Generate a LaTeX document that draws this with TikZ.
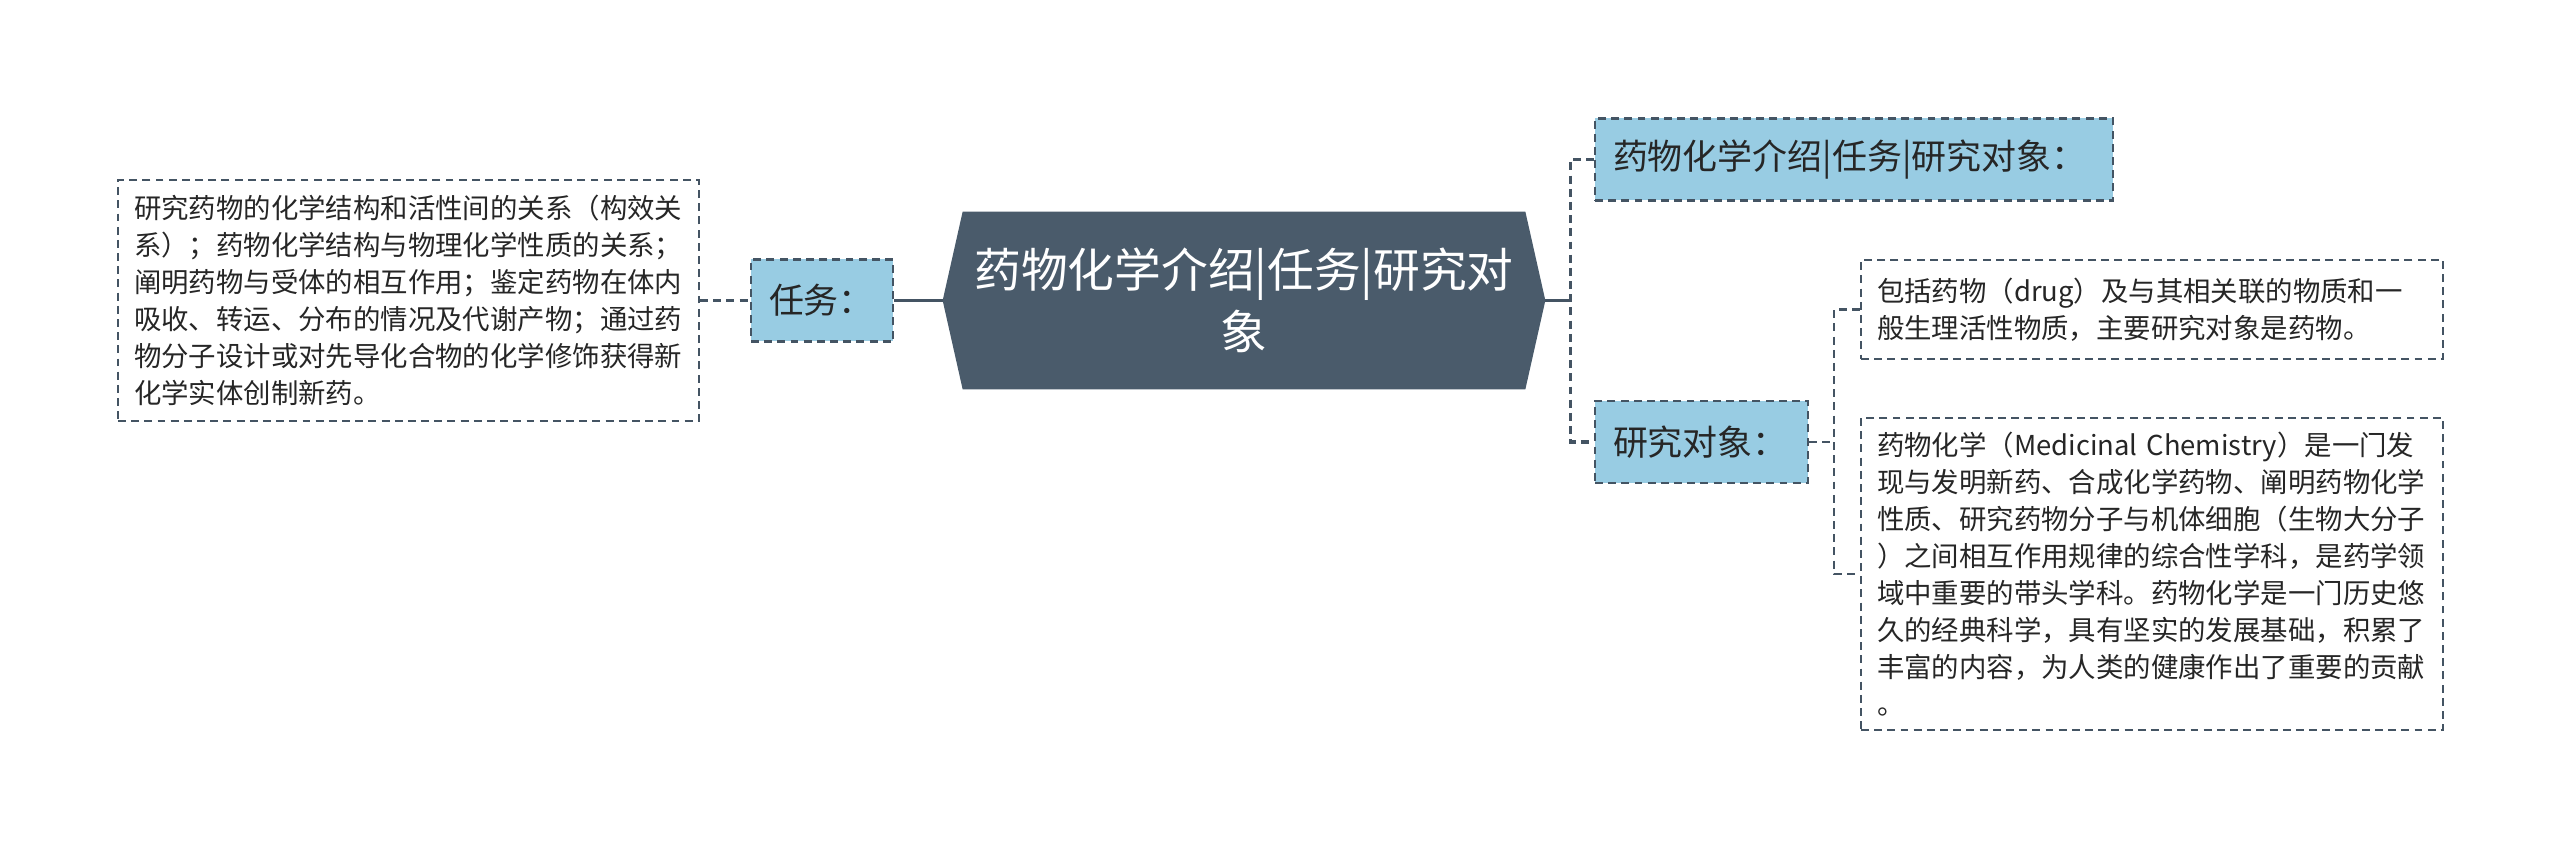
\documentclass[tikz,border=0pt]{standalone}
\usepackage{fontspec}
\newfontfamily\cjk{Noto Sans CJK SC}
\usepackage{tikz}
\usetikzlibrary{calc,backgrounds}

\definecolor{hubfill}{RGB}{74,91,107}
\definecolor{topicfill}{RGB}{152,204,227}
\definecolor{edge}{RGB}{68,84,99}
\definecolor{ink}{RGB}{38,38,38}

\begin{document}
\begin{tikzpicture}[
    hub/.style={minimum width=12.04cm, minimum height=3.54cm, inner sep=0pt, align=center, text=white, font=\cjk\fontsize{26.6}{35}\selectfont},
    topic/.style={draw=edge, line width=0.05cm, dash pattern=on 4.5pt off 3pt, fill=topicfill, text=ink, minimum height=1.64cm, inner xsep=0.36cm, text width=#1, align=left, font=\cjk\fontsize{19.9}{24}\selectfont},
    note/.style={draw=edge, line width=0.045cm, dash pattern=on 4.5pt off 3pt, fill=white, text=ink, inner xsep=0.32cm, inner ysep=0pt, text width=#1, align=left, font=\cjk\fontsize{15.6}{21}\selectfont},
    link/.style={draw=edge, line width=0.065cm},
    dlink/.style={link, dash pattern=on 4.5pt off 3pt},
    slink/.style={draw=edge, line width=0.045cm, dash pattern=on 4.5pt off 3pt}
]
\useasboundingbox (0,0) rectangle (51.2,-16.98);

% centre and left branch
\node[hub] (hub) at (24.88,-6.01) {药物化学介绍|任务|研究对\\象};
\node[topic=2.12cm] (task) at (16.44,-6.01) {任务：};
\node[note=10.98cm, minimum height=4.82cm] (duty) at (8.17,-6.01) {研究药物的化学结构和活性间的关系（构效关\\系）；药物化学结构与物理化学性质的关系；\\阐明药物与受体的相互作用；鉴定药物在体内\\吸收、转运、分布的情况及代谢产物；通过药\\物分子设计或对先导化合物的化学修饰获得新\\化学实体创制新药。};

% right branch
\node[topic=9.64cm] (intro) at (37.08,-3.19) {药物化学介绍|任务|研究对象：};
\node[topic=3.54cm] (obj) at (34.03,-8.84) {研究对象：};
\node[note=11.0cm, minimum height=1.98cm] (drug) at (43.04,-6.19) {包括药物（drug）及与其相关联的物质和一\\般生理活性物质，主要研究对象是药物。};
\node[note=11.0cm, minimum height=6.24cm] (med) at (43.04,-11.48) {药物化学（Medicinal Chemistry）是一门发\\现与发明新药、合成化学药物、阐明药物化学\\性质、研究药物分子与机体细胞（生物大分子\\）之间相互作用规律的综合性学科，是药学领\\域中重要的带头学科。药物化学是一门历史悠\\久的经典科学，具有坚实的发展基础，积累了\\丰富的内容，为人类的健康作出了重要的贡献\\。};

\begin{scope}[on background layer]
\fill[hubfill] (hub.west) -- ([xshift=0.4cm]hub.north west) -- ([xshift=-0.4cm]hub.north east) -- (hub.east) -- ([xshift=-0.4cm]hub.south east) -- ([xshift=0.4cm]hub.south west) -- cycle;
\end{scope}

\coordinate (j1) at ([xshift=0.5cm]hub.east);
\coordinate (j2) at ([xshift=0.5cm]obj.east);

\draw[link] (task) -- (hub);
\draw[dlink] (duty) -- (task);
\draw[link] (hub.east) -- (j1);
\draw[dlink] (intro.west) -- (intro.west -| j1) -- (obj.west -| j1) -- (obj.west);
\draw[slink] (obj.east) -- (j2);
\draw[slink] (drug.west) -- (drug.west -| j2) -- (med.west -| j2) -- (med.west);
\end{tikzpicture}
\end{document}
